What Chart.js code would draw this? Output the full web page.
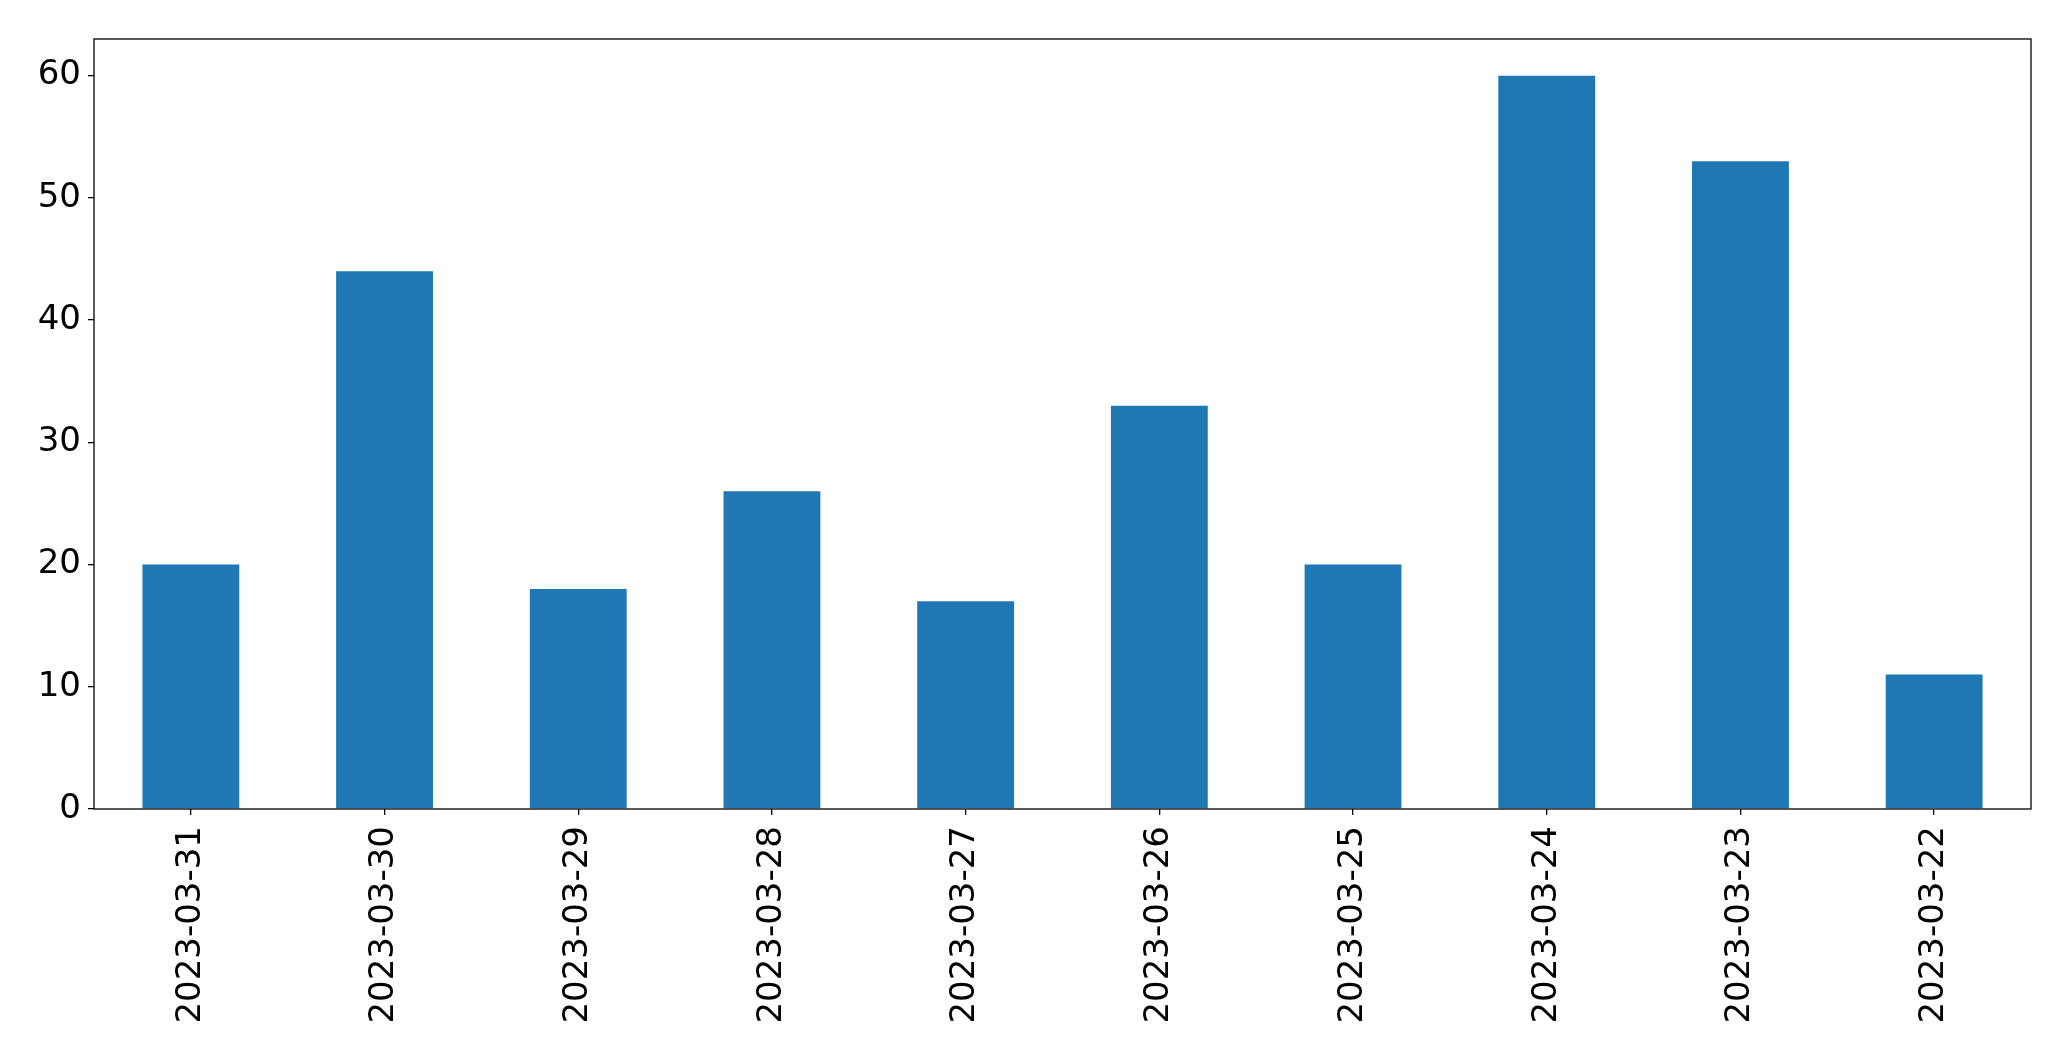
<!DOCTYPE html>
<html>
<head>
<meta charset="utf-8">
<script src="https://cdn.jsdelivr.net/npm/chart.js@4.4.0/dist/chart.umd.min.js"></script>
<style>
  html, body { margin: 0; padding: 0; background: #fff; }
  #wrap { width: 2071px; height: 1061px; }
</style>
</head>
<body>
<div id="wrap"><canvas id="barChart"></canvas></div>
<script>
// Data
const dates = ["2023-03-31", "2023-03-30", "2023-03-29", "2023-03-28", "2023-03-27",
               "2023-03-26", "2023-03-25", "2023-03-24", "2023-03-23", "2023-03-22"];
const counts = [20, 44, 18, 26, 17, 33, 20, 60, 53, 11];
const yTicks = [0, 10, 20, 30, 40, 50, 60];

// box around the plot area, like matplotlib's spines
const frame = {
    id: 'frame',
    afterDraw(chart) {
        const { ctx, chartArea: a } = chart;
        ctx.save();
        ctx.strokeStyle = '#000';
        ctx.lineWidth = 1.3;
        ctx.strokeRect(a.left, a.top, a.right - a.left, a.bottom - a.top);
        ctx.restore();
    }
};

const ctx = document.getElementById('barChart').getContext('2d');
new Chart(ctx, {
    type: 'bar',
    data: {
        labels: dates,
        datasets: [{
            data: counts,
            backgroundColor: '#1f77b4',
            barPercentage: 0.5,
            categoryPercentage: 1.0
        }]
    },
    options: {
        responsive: true,
        maintainAspectRatio: false,
        animation: false,
        plugins: { legend: { display: false }, tooltip: { enabled: false } },
        layout: { padding: { top: 39, right: 40, left: 0, bottom: 0 } },
        scales: {
            x: {
                grid: { offset: false, drawOnChartArea: false, drawTicks: true, tickLength: 6, color: '#000', lineWidth: 1.3 },
                border: { display: false },
                ticks: {
                    color: '#000',
                    font: { family: 'DejaVu Sans', size: 34 },
                    minRotation: 90,
                    maxRotation: 90,
                    padding: 11,
                    autoSkip: false
                },
                afterFit(scale) { scale.height = 252; }
            },
            y: {
                min: 0,
                max: 63,
                grid: { drawOnChartArea: false, drawTicks: true, tickLength: 6, color: '#000', lineWidth: 1.3 },
                border: { display: false },
                afterBuildTicks(scale) { scale.ticks = yTicks.map(v => ({ value: v })); },
                ticks: {
                    color: '#000',
                    font: { family: 'DejaVu Sans', size: 34 },
                    padding: 7
                },
                afterFit(scale) { scale.width = 94; }
            }
        }
    },
    plugins: [frame]
});
</script>
</body>
</html>
